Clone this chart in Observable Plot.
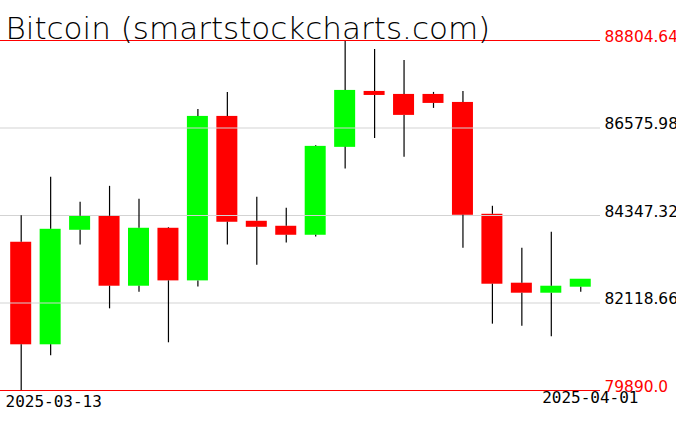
<!DOCTYPE html>
<html>
<head>
<meta charset="utf-8">
<script src="https://cdn.jsdelivr.net/npm/d3@7"></script>
<script src="https://cdn.jsdelivr.net/npm/@observablehq/plot@0.6"></script>
<style>
  html, body { margin: 0; padding: 0; background: #ffffff; }
  #chart svg { display: block; }
</style>
</head>
<body>
<div id="chart"></div>
<script>
const title = "Bitcoin (smartstockcharts.com)";
const dates = ["2025-03-13","2025-03-14","2025-03-15","2025-03-16","2025-03-17","2025-03-18","2025-03-19","2025-03-20","2025-03-21","2025-03-22","2025-03-23","2025-03-24","2025-03-25","2025-03-26","2025-03-27","2025-03-28","2025-03-29","2025-03-30","2025-03-31","2025-04-01"];
const open  = [83666, 81054, 83971, 84327, 82546, 84022, 82682, 86871, 84200, 84073, 83844, 86083, 87507, 87431, 87431, 87227, 84378, 82623, 82368, 82521];
const high  = [84340, 85319, 84683, 85090, 84760, 84039, 87049, 87482, 84811, 84531, 86133, 88804.64, 88576, 88296, 87482, 87507, 84582, 83513, 83920, 82724];
const low   = [79890.0, 80774, 83598, 81970, 82394, 81105, 82529, 83598, 83081, 83649, 83801, 85531, 86311, 85828, 87075, 83513, 81580, 81529, 81257, 82394];
const close = [81054, 83996, 84327, 82546, 84022, 82682, 86871, 84175, 84047, 83844, 86108, 87533, 87405, 86897, 87202, 84353, 82597, 82368, 82546, 82724];
const yTicks = [79890.0, 82118.66, 84347.32, 86575.98, 88804.64];
const yTickLabels = ["79890.0", "82118.66", "84347.32", "86575.98", "88804.64"];
const xTickLabels = ["2025-03-13", "2025-04-01"];

const candles = dates.map((d, i) => ({
  date: d, open: open[i], high: high[i], low: low[i], close: close[i],
  top: Math.max(open[i], close[i]), bottom: Math.min(open[i], close[i]),
  color: close[i] >= open[i] ? "#00ff00" : "#ff0000"
}));
const ticks = yTicks.map((v, i) => ({
  value: v, label: yTickLabels[i],
  color: (i === 0 || i === yTicks.length - 1) ? "#ff0000" : "#000000"
}));
const monoFont = "'DejaVu Sans Mono', 'Liberation Mono', monospace";
const sansFont = "'DejaVu Sans', 'Liberation Sans', sans-serif";

const chart = Plot.plot({
  width: 676,
  height: 431,
  marginTop: 40,
  marginBottom: 41,
  marginLeft: 0,
  marginRight: 76,
  style: { background: "#ffffff", overflow: "visible" },
  x: { type: "band", domain: dates, range: [10.2, 590.75], paddingInner: 0.287, paddingOuter: 0, align: 0.5, round: false, axis: null },
  y: { domain: [yTicks[0], yTicks[yTicks.length - 1]], range: [390, 40], axis: null },
  marks: [
    Plot.barY(candles, { x: "date", y1: "open", y2: "close", fill: "color" }),
    Plot.ruleY(ticks.slice(1, -1), { y: "value", stroke: "#d3d3d3", strokeWidth: 1 }),
    Plot.ruleX(candles, { x: "date", y1: "high", y2: "top", stroke: "#000000", strokeWidth: 1.2 }),
    Plot.ruleX(candles, { x: "date", y1: "bottom", y2: "low", stroke: "#000000", strokeWidth: 1.2 }),
    Plot.ruleY([ticks[0], ticks[ticks.length - 1]], { y: "value", stroke: "#ff0000", strokeWidth: 1 }),
    Plot.text(ticks, { y: "value", text: "label", fill: "color", frameAnchor: "right", textAnchor: "start", lineAnchor: "bottom", dx: 4, dy: 1, fontSize: 15.4, fontFamily: sansFont }),
    Plot.text([xTickLabels[0]], { x: [dates[0]], text: d => d, frameAnchor: "bottom", textAnchor: "start", lineAnchor: "bottom", dx: -15.7, dy: 16, fontSize: 16, fontFamily: monoFont, fill: "#000000", letterSpacing: 0.8 }),
    Plot.text([xTickLabels[1]], { x: [dates[dates.length - 1]], text: d => d, frameAnchor: "bottom", textAnchor: "start", lineAnchor: "bottom", dx: -38.6, dy: 12, fontSize: 16, fontFamily: monoFont, fill: "#000000", letterSpacing: 0.8 }),
    Plot.text([title], { text: d => d, frameAnchor: "top-left", textAnchor: "start", lineAnchor: "bottom", dx: 5, dy: -1.5, fontSize: 31, fontFamily: sansFont, fontWeight: 200, fill: "#000000", letterSpacing: 0.35 })
  ]
});
document.getElementById("chart").appendChild(chart);
</script>
</body>
</html>
